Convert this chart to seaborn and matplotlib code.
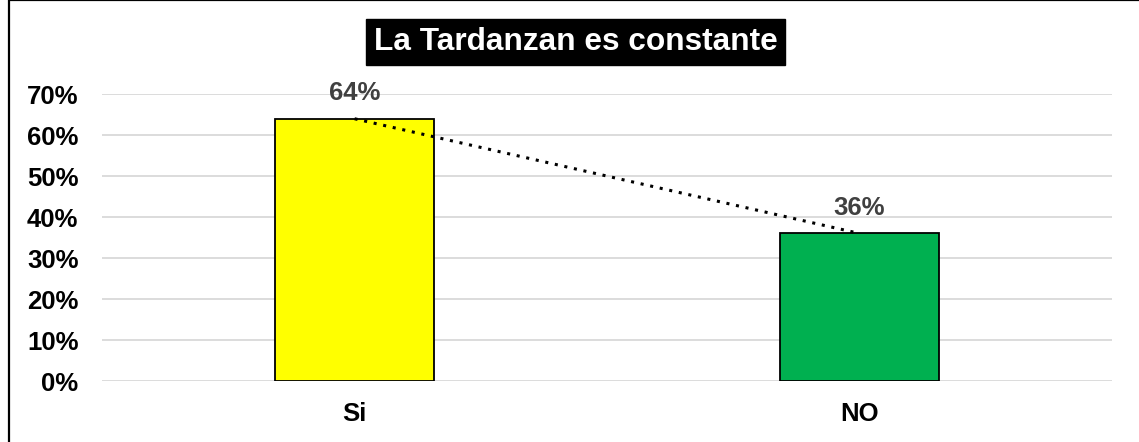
import matplotlib
matplotlib.use("Agg")
import matplotlib.pyplot as plt
import matplotlib.patches as mpatches
from matplotlib.ticker import PercentFormatter, MultipleLocator
import seaborn as sns
import pandas as pd

categories = ["Si", "NO"]
values = [0.64, 0.36]
bar_colors = ["#FFFF00", "#00B050"]
title = "La Tardanzan es constante"

sns.set_theme(style="white")
plt.rcParams["font.family"] = ["Liberation Sans", "DejaVu Sans"]

df = pd.DataFrame({"respuesta": categories, "porcentaje": values})

fig = plt.figure(figsize=(11.39, 4.42), dpi=100)
ax = fig.add_axes([0.0896, 0.138, 0.8868, 0.649])

sns.barplot(data=df, x="respuesta", y="porcentaje", hue="respuesta",
            palette=bar_colors, legend=False, width=0.315, saturation=1,
            edgecolor="black", linewidth=1.3, ax=ax, zorder=3)

# linear trend through the bar tops
ax.plot(range(len(values)), values, linestyle=(0, (1, 2.2)), color="black",
        linewidth=2.2, zorder=4)

# value labels
for i, v in enumerate(values):
    ax.text(i, v + 0.033, f"{v:.0%}", ha="center", va="bottom",
            fontsize=18.5, fontweight="bold", color="#404040", zorder=5)

ax.set_xlim(-0.5, 1.5)
ax.set_ylim(0, 0.7)
ax.yaxis.set_major_locator(MultipleLocator(0.1))
ax.yaxis.set_major_formatter(PercentFormatter(1.0, decimals=0))
ax.grid(axis="y", color="#D9D9D9", linewidth=1.3, zorder=0)
ax.grid(axis="x", visible=False)
for s in ax.spines.values():
    s.set_visible(False)
ax.set_xlabel("")
ax.set_ylabel("")
ax.tick_params(axis="y", length=0, pad=17, labelsize=18.5)
ax.tick_params(axis="x", length=0, pad=15, labelsize=18.5)
for lab in ax.get_xticklabels() + ax.get_yticklabels():
    lab.set_fontweight("bold")
    lab.set_color("black")

fig.text(0.5055, 0.905, title, ha="center", va="center", fontsize=22.8,
         fontweight="bold", color="white",
         bbox=dict(boxstyle="square,pad=0.24", facecolor="black", edgecolor="black"))

# outer frame (its right and bottom edges run past the canvas)
fig.patches.append(mpatches.Rectangle((0.0075, -0.1), 1.1, 1.0995,
                                      transform=fig.transFigure, fill=False,
                                      edgecolor="black", linewidth=1.6))

fig.savefig("out.png", dpi=100, facecolor="white")
